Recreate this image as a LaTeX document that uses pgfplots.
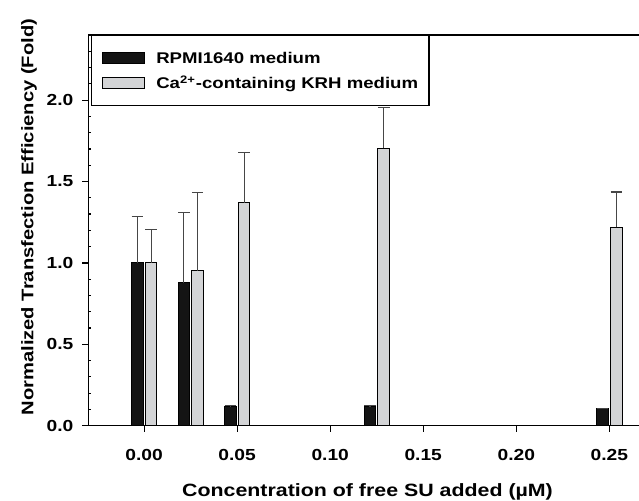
\documentclass[border=0pt]{standalone}
\usepackage{pgfplots}
\pgfplotsset{compat=1.18}
\usepackage{pgfplotstable}
\usepackage{fontspec}
\setmainfont{Liberation Sans}[FakeStretch=1.2]
\definecolor{barblack}{RGB}{20,20,20}
\definecolor{bargray}{RGB}{211,212,214}
\definecolor{errgray}{RGB}{70,70,70}

\pgfplotstableread{
x y e
0.000 1.000 0.285
0.025 0.879 0.432
0.050 0.115 0.010
0.125 0.119 0.004
0.250 0.107 0.000
}\rpmi

\pgfplotstableread{
x y e
0.000 1.000 0.205
0.025 0.951 0.481
0.050 1.369 0.309
0.125 1.703 0.250
0.250 1.219 0.217
}\krh

\begin{document}
\begin{tikzpicture}
\useasboundingbox (0pt,0pt) rectangle (319.5pt,250pt);
\begin{axis}[
  at={(44.15pt,37.15pt)}, anchor=south west,
  scale only axis, width=286.55pt, height=195.35pt,
  xmin=-0.03, xmax=0.278, ymin=0, ymax=2.4,
  ybar, bar width=5.8pt,
  axis line style={line width=0.6pt, black},
  tick style={line width=0.6pt, black},
  tick align=outside,
  major tick length=3pt, minor tick length=1.6pt,
  minor y tick style={xshift=1.6pt},
  xtick pos=left, ytick pos=left,
  xtick={0,0.05,0.1,0.15,0.2,0.25},
  ytick={0,0.5,1,1.5,2},
  minor ytick={0.1,0.2,0.3,0.4,0.6,0.7,0.8,0.9,1.1,1.2,1.3,1.4,1.6,1.7,1.8,1.9,2.1,2.2,2.3},
  /pgf/number format/assume math mode=true,
  xticklabel style={/pgf/number format/.cd, fixed, fixed zerofill, precision=2, /tikz/.cd,
    font=\fontsize{8pt}{9pt}\selectfont\bfseries, inner sep=0pt, anchor=north, yshift=-8.5pt},
  yticklabel style={/pgf/number format/.cd, fixed, fixed zerofill, precision=1, /tikz/.cd,
    font=\fontsize{8pt}{9pt}\selectfont\bfseries, inner sep=0pt, anchor=east, xshift=-4.3pt},
  xlabel={Concentration of free SU added (\textmu M)},
  ylabel={Normalized Transfection Efficiency (Fold)},
  xlabel style={at={(axis description cs:0.4872,-0.1812)}, anchor=base,
    font=\fontsize{8.9pt}{10pt}\selectfont\bfseries, inner sep=0pt},
  ylabel style={at={(axis description cs:-0.096,0.534)}, anchor=base,
    font=\fontsize{8.4pt}{10pt}\selectfont\bfseries, inner sep=0pt},
  legend cell align=left,
  legend image code/.code={\draw[#1, line width=0.5pt, draw=black] (0pt,-2.75pt) rectangle (21pt,2.75pt);},
  legend style={at={(axis description cs:0.0042,1)}, anchor=north west,
    draw=black, line width=0.6pt, fill=white,
    font=\fontsize{7.75pt}{9pt}\selectfont\bfseries,
    inner xsep=5.5pt, inner ysep=6.8pt, row sep=4.25pt, column sep=5.5pt,
    nodes={inner sep=0pt, text height=7pt, text depth=1.5pt, anchor=west}},
  error bars/error bar style={line width=0.6pt, errgray},
  error bars/error mark options={line width=0.6pt, errgray, mark size=2.9pt, rotate=90},
]
\addplot[fill=barblack, draw=black, line width=0.5pt, bar shift=-3.4pt,
  error bars/.cd, y dir=plus, y explicit]
  table[x=x, y=y, y error=e] {\rpmi};
\addplot[fill=bargray, draw=black, line width=0.5pt, bar shift=3.5pt,
  error bars/.cd, y dir=plus, y explicit]
  table[x=x, y=y, y error=e] {\krh};
\legend{RPMI1640 medium, Ca\textsuperscript{2+}-containing KRH medium}
\end{axis}
\end{tikzpicture}
\end{document}
